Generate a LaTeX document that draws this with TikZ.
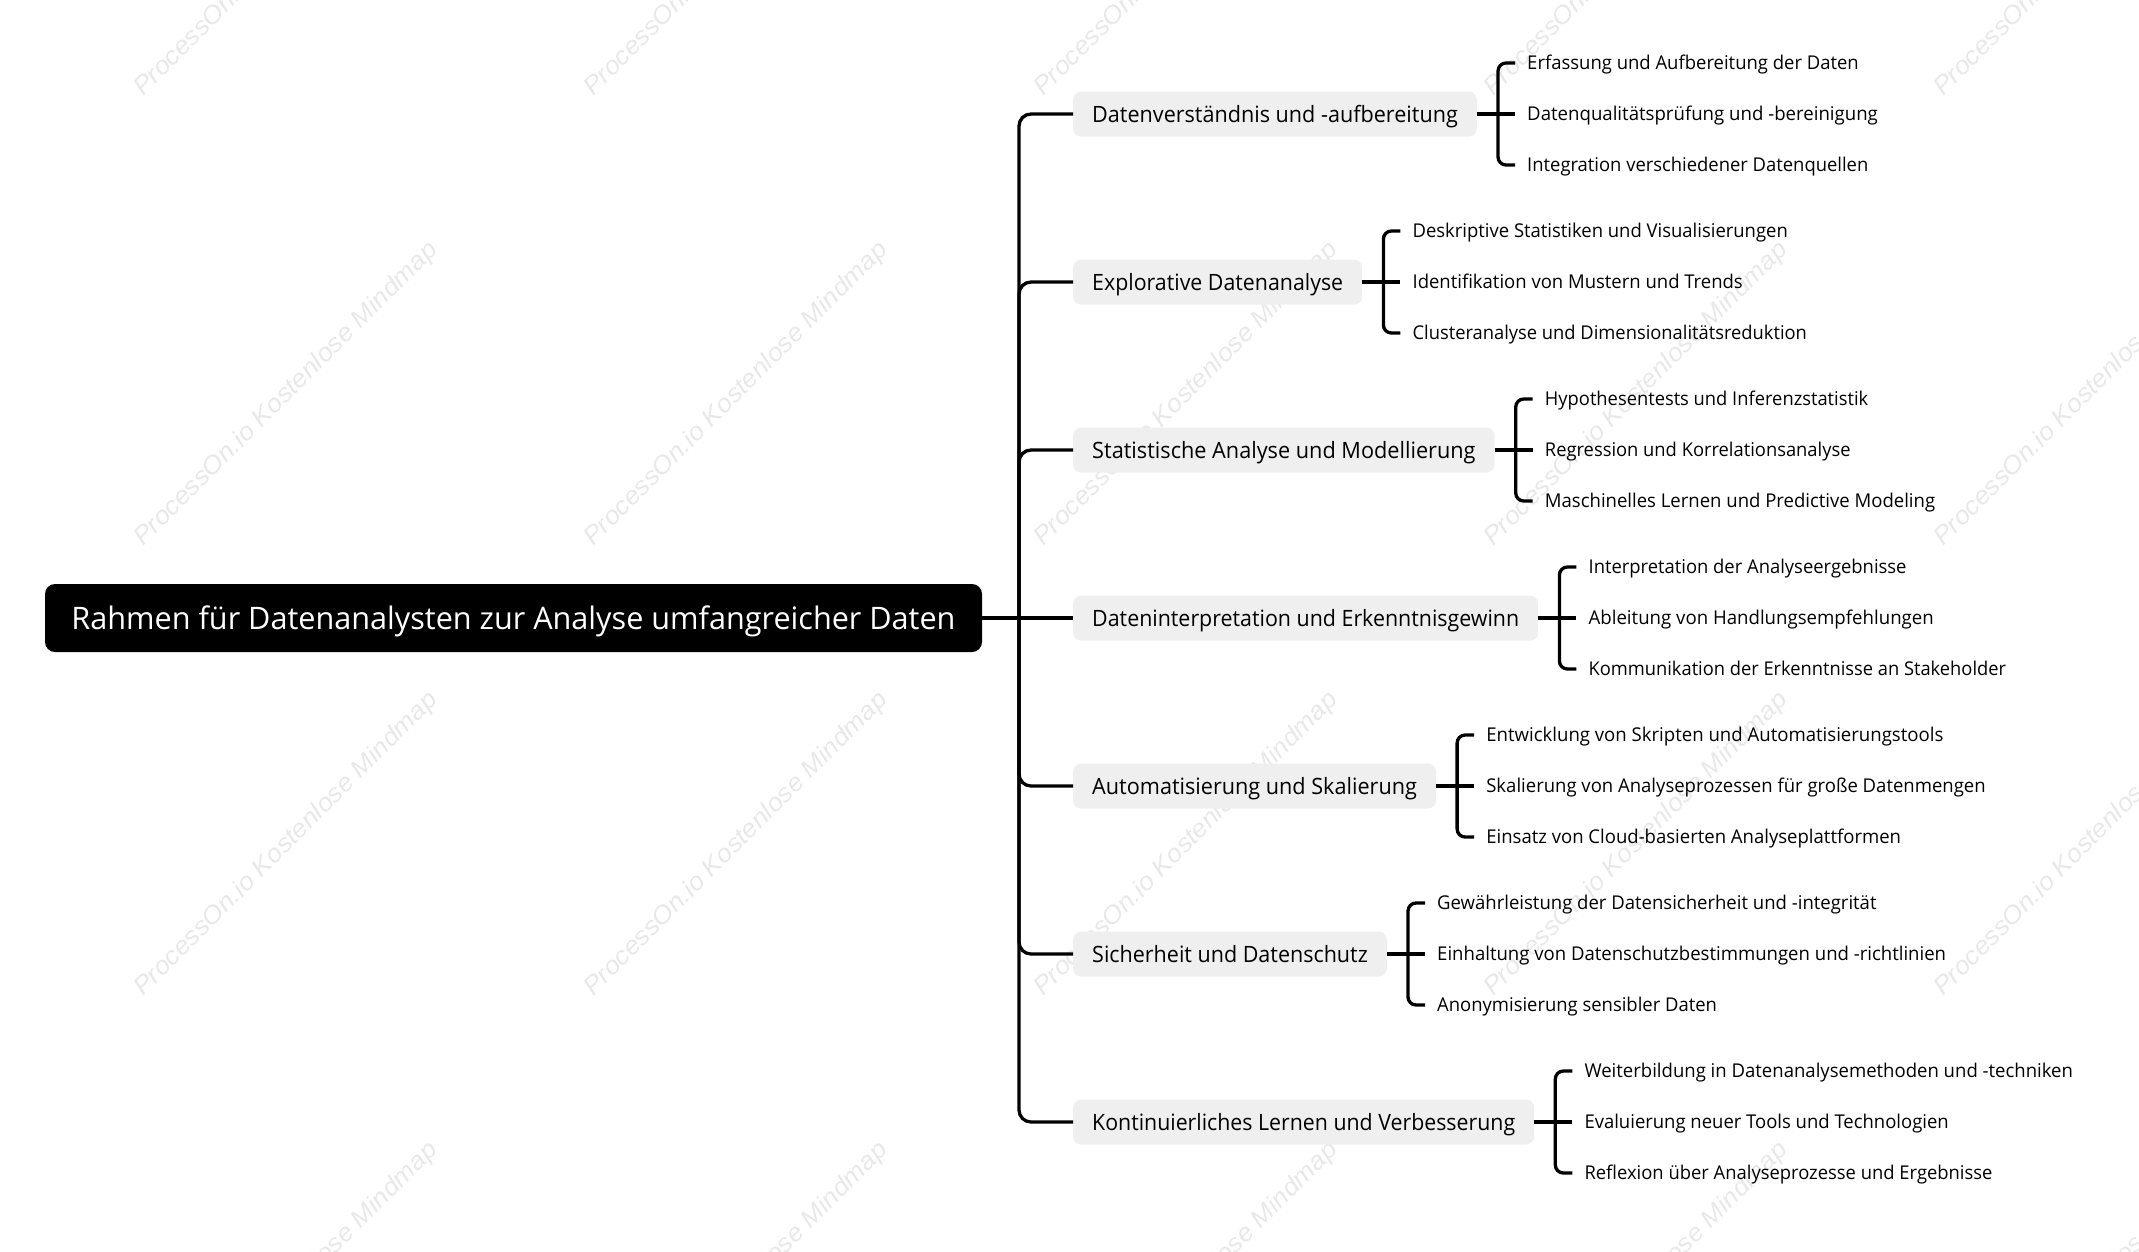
\documentclass[tikz,border=0pt]{standalone}
\usepackage{fontspec}
\setmainfont{Open Sans}
\newfontfamily\wmfont{Liberation Sans}
\usetikzlibrary{calc}
\newcommand{\fw}[2]{\resizebox{#1pt}{\height}{#2}}
\definecolor{boxgray}{RGB}{239,239,239}
\definecolor{wmgray}{RGB}{232,232,232}
\begin{document}
\begin{tikzpicture}[x=1pt,y=-1pt,
  rootbox/.style={fill=black, text=white, rounded corners=10pt, font=\fontsize{31}{36}\selectfont,
    minimum width=937pt, minimum height=68pt, inner xsep=0pt, inner ysep=0pt, text height=22.1pt, text depth=0pt},
  lone/.style={fill=boxgray, rounded corners=8pt, font=\fontsize{22.5}{27}\selectfont,
    minimum height=45pt, inner xsep=19pt, inner ysep=0pt, text height=16.1pt, text depth=0pt, anchor=west},
  ltwo/.style={font=\fontsize{19}{23}\selectfont, inner sep=0pt, text height=13.6pt, text depth=0pt, anchor=west},
  conn/.style={line width=3.3pt, draw=black},
  thickconn/.style={line width=4.6pt, draw=black},
  rootconn/.style={line width=4.6pt, draw=black},
  wm/.style={rotate=45, anchor=base west, inner sep=0pt, text=wmgray, font=\wmfont\itshape\fontsize{25}{30}\selectfont}
]
\useasboundingbox (0,0) rectangle (2139,1251);
\begin{scope}
\clip (0,0) rectangle (2139,1251);
\foreach \i in {0,...,4}{
  \foreach \j in {0,...,3}{
    \node[wm] at ({143+450*\i},{97+450*\j}) {\fw{418}{ProcessOn.io Kostenlose Mindmap}};
  }
}
\end{scope}

% root
\node[rootbox] (root) at (513.5,618) {\fw{884}{Rahmen für Datenanalysten zur Analyse umfangreicher Daten}};
\coordinate (hub) at (1019,618);

% level 1
\node[lone] (b1) at (1073,114) {\fw{365.6}{Datenverständnis und -aufbereitung}};
\node[lone] (b2) at (1073,282) {\fw{251}{Explorative Datenanalyse}};
\node[lone] (b3) at (1073,450) {\fw{383.3}{Statistische Analyse und Modellierung}};
\node[lone] (b4) at (1073,618) {\fw{427}{Dateninterpretation und Erkenntnisgewinn}};
\node[lone] (b5) at (1073,786) {\fw{324.7}{Automatisierung und Skalierung}};
\node[lone] (b6) at (1073,954) {\fw{275.6}{Sicherheit und Datenschutz}};
\node[lone] (b7) at (1073,1122) {\fw{422.9}{Kontinuierliches Lernen und Verbesserung}};

% level 2
\node[ltwo] (c11) at ($(b1.east)+(50,-51)$) {\fw{331.5}{Erfassung und Aufbereitung der Daten}};
\node[ltwo] (c12) at ($(b1.east)+(50,0)$) {\fw{350.6}{Datenqualitätsprüfung und -bereinigung}};
\node[ltwo] (c13) at ($(b1.east)+(50,51)$) {\fw{341.1}{Integration verschiedener Datenquellen}};

\node[ltwo] (c21) at ($(b2.east)+(50,-51)$) {\fw{375.2}{Deskriptive Statistiken und Visualisierungen}};
\node[ltwo] (c22) at ($(b2.east)+(50,0)$) {\fw{330.1}{Identifikation von Mustern und Trends}};
\node[ltwo] (c23) at ($(b2.east)+(50,51)$) {\fw{394.3}{Clusteranalyse und Dimensionalitätsreduktion}};

\node[ltwo] (c31) at ($(b3.east)+(50,-51)$) {\fw{323.3}{Hypothesentests und Inferenzstatistik}};
\node[ltwo] (c32) at ($(b3.east)+(50,0)$) {\fw{305.6}{Regression und Korrelationsanalyse}};
\node[ltwo] (c33) at ($(b3.east)+(50,51)$) {\fw{390.2}{Maschinelles Lernen und Predictive Modeling}};

\node[ltwo] (c41) at ($(b4.east)+(50,-51)$) {\fw{317.9}{Interpretation der Analyseergebnisse}};
\node[ltwo] (c42) at ($(b4.east)+(50,0)$) {\fw{345.1}{Ableitung von Handlungsempfehlungen}};
\node[ltwo] (c43) at ($(b4.east)+(50,51)$) {\fw{417.4}{Kommunikation der Erkenntnisse an Stakeholder}};

\node[ltwo] (c51) at ($(b5.east)+(50,-51)$) {\fw{457}{Entwicklung von Skripten und Automatisierungstools}};
\node[ltwo] (c52) at ($(b5.east)+(50,0)$) {\fw{499.3}{Skalierung von Analyseprozessen für große Datenmengen}};
\node[ltwo] (c53) at ($(b5.east)+(50,51)$) {\fw{414.7}{Einsatz von Cloud-basierten Analyseplattformen}};

\node[ltwo] (c61) at ($(b6.east)+(50,-51)$) {\fw{439.3}{Gewährleistung der Datensicherheit und -integrität}};
\node[ltwo] (c62) at ($(b6.east)+(50,0)$) {\fw{508.8}{Einhaltung von Datenschutzbestimmungen und -richtlinien}};
\node[ltwo] (c63) at ($(b6.east)+(50,51)$) {\fw{279.7}{Anonymisierung sensibler Daten}};

\node[ltwo] (c71) at ($(b7.east)+(50,-51)$) {\fw{488.4}{Weiterbildung in Datenanalysemethoden und -techniken}};
\node[ltwo] (c72) at ($(b7.east)+(50,0)$) {\fw{364.2}{Evaluierung neuer Tools und Technologien}};
\node[ltwo] (c73) at ($(b7.east)+(50,51)$) {\fw{407.9}{Reflexion über Analyseprozesse und Ergebnisse}};

% connectors
\draw[rootconn] (root.east) -- (hub);
\draw[conn] (hub) -- (b4.west);
\foreach \i in {1,2,3,5,6,7}{
  \draw[conn, rounded corners=12pt] (hub) |- (b\i.west);
}
\foreach \i in {1,...,7}{
  \draw[thickconn] (b\i.east) -- ($(c\i2.west)+(-12,0)$);
  \draw[conn, rounded corners=8pt] ($(c\i1.west)+(-12,0)$) -| ($(b\i.east)+(21,51)$) -- ($(c\i3.west)+(-12,0)$);
}
\end{tikzpicture}
\end{document}
